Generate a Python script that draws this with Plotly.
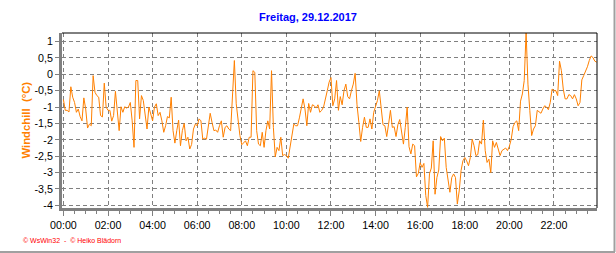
import plotly.graph_objects as go

# Windchill readings, 5-minute samples, in 4-hour blocks
block_00_04 = [-0.77, -1.1, -1.1, -1.15, -0.38, -0.7, -0.86, -1.16, -1.06, -1.29, -1.42, -0.72,
               -1.06, -1.64, -1.52, -1.57, -0.04, -0.55, -0.65, -0.7, -1.26, -1.3, -0.27, -1.0,
               -1.1, -1.1, -1.43, -1.26, -0.52, -1.26, -1.72, -0.99, -1.16, -0.99, -1.03, -1.0,
               -0.86, -1.42, -2.23, -0.19, -0.19, -1.36, -0.65, -0.8, -1.2, -1.67, -1.0, -1.26]
block_04_08 = [-1.42, -1.0, -0.9, -1.26, -1.16, -1.42, -1.77, -1.57, -1.29, -1.33, -0.7, -1.72,
               -2.1, -1.72, -1.4, -2.18, -1.72, -1.5, -2.03, -1.92, -2.28, -2.14, -1.67, -1.52,
               -1.57, -1.36, -1.42, -1.98, -1.95, -1.98, -1.57, -1.19, -1.47, -1.72, -1.7, -1.77,
               -1.57, -1.42, -1.92, -1.62, -1.57, -1.67, -1.72, -0.7, 0.42, -0.9, -1.47, -1.87]
block_08_12 = [-2.15, -2.08, -2.03, -2.18, -1.92, -1.92, 0.11, 0.06, -1.72, -2.13, -2.18, -1.77,
               -2.23, -1.72, -1.42, -1.67, 0.11, -1.62, -2.52, -2.23, -2.33, -1.92, -2.48, -2.45,
               -2.48, -2.56, -2.21, -1.87, -1.52, -1.57, -1.57, -1.33, -1.0, -0.75, -1.06, -1.57,
               -0.89, -1.16, -0.93, -0.96, -1.03, -0.93, -1.16, -1.1, -1.0, -0.7, -0.5, -0.24]
block_12_16 = [-0.1, -0.96, -0.75, -0.19, -1.1, -0.68, -0.93, -0.5, -0.3, -0.68, -0.75, -0.5,
               -0.3, 0.03, -0.93, -1.47, -2.05, -1.62, -1.31, -1.62, -1.62, -1.36, -1.67, -1.16,
               -0.99, -0.8, -0.5, -1.1, -1.54, -1.57, -1.9, -1.52, -1.1, -1.62, -1.6, -1.9,
               -1.54, -1.38, -1.82, -2.13, -1.62, -1.0, -2.21, -2.43, -2.13, -2.18, -3.13, -3.02]
block_16_20 = [-2.7, -2.84, -2.72, -3.7, -4.06, -3.04, -2.86, -2.03, -3.66, -3.15, -2.92, -1.9,
               -2.03, -1.95, -2.84, -3.25, -3.6, -3.15, -3.04, -3.15, -3.96, -3.56, -2.94, -2.64,
               -2.54, -2.64, -2.79, -2.54, -1.98, -2.18, -2.48, -2.45, -2.03, -2.13, -1.4, -2.33,
               -2.69, -2.59, -3.0, -2.03, -2.23, -2.08, -2.33, -2.48, -2.33, -2.28, -2.25, -2.33]
block_20_24 = [-2.2, -1.98, -1.6, -1.47, -1.42, -1.72, -0.82, -0.6, -0.19, 1.3, -0.3, -1.1,
               -1.87, -1.67, -1.57, -1.1, -1.16, -1.19, -1.06, -0.96, -1.0, -1.08, -0.86, -0.45,
               -0.5, -0.5, -0.65, 0.4, 0.11, -0.45, -0.75, -0.75, -0.62, -0.65, -0.75, -0.62,
               -0.75, -0.96, -0.86, -0.17, -0.04, 0.08, 0.23, 0.42, 0.56, 0.51, 0.4, 0.37]

windchill = block_00_04 + block_04_08 + block_08_12 + block_12_16 + block_16_20 + block_20_24
hours = [i * 5 / 60 for i in range(len(windchill))]

x_tick_vals = [0, 2, 4, 6, 8, 10, 12, 14, 16, 18, 20, 22]
x_tick_text = ["00:00", "02:00", "04:00", "06:00", "08:00", "10:00",
               "12:00", "14:00", "16:00", "18:00", "20:00", "22:00"]
y_tick_vals = [1, 0.5, 0, -0.5, -1, -1.5, -2, -2.5, -3, -3.5, -4]
y_tick_text = ["1", "0,5", "0", "-0,5", "-1", "-1,5", "-2", "-2,5", "-3", "-3,5", "-4"]

title_text = "Freitag, 29.12.2017"
y_title = "Windchill  (°C)"
footer = "© WsWin32  -  © Heiko Blädorn"

FONT = "Liberation Sans, Arial, sans-serif"
GRID = "#808080"

fig = go.Figure()
fig.add_trace(go.Scatter(x=hours, y=windchill, mode="lines",
                         line=dict(color="#FF8000", width=1), showlegend=False,
                         hoverinfo="skip"))

L, R, T, B = 62, 19, 33, 45
W, H = 616, 253
pw = W - L - R
ph = H - T - B

def px_x(px):
    return (px - L) / pw

def px_y(py):
    return (H - B - py) / ph

fig.update_layout(
    width=W, height=H,
    margin=dict(l=L, r=R, t=T, b=B, pad=0),
    paper_bgcolor="white", plot_bgcolor="white",
    font=dict(family=FONT, size=11, color="black"),
    title=dict(text="<b>" + title_text + "</b>", x=0.5, xref="container", xanchor="center",
               y=1 - 17 / H, yref="container", yanchor="middle",
               font=dict(family=FONT, size=11, color="#0000FF")),
    xaxis=dict(range=[-0.063, 23.93], tickmode="array", tickvals=x_tick_vals, ticktext=x_tick_text,
               showgrid=True, gridcolor=GRID, gridwidth=1, griddash="4px,3px",
               showline=True, linecolor=GRID, linewidth=3,
               ticks="outside", ticklen=5, tickcolor=GRID, tickwidth=1,
               minor=dict(tickmode="linear", tick0=0, dtick=0.5, ticks="outside", ticklen=3,
                          tickcolor=GRID, tickwidth=1, showgrid=False),
               zeroline=False, tickfont=dict(family=FONT, size=10.7, color="black"),
               fixedrange=True),
    yaxis=dict(range=[-4.08, 1.26], tickmode="array", tickvals=y_tick_vals, ticktext=y_tick_text,
               showgrid=True, gridcolor=GRID, gridwidth=1, griddash="4px,3px",
               showline=True, linecolor=GRID, linewidth=3,
               ticks="outside", ticklen=4, tickcolor=GRID, tickwidth=1,
               zeroline=False, tickfont=dict(family=FONT, size=10.7, color="black"),
               fixedrange=True),
    shapes=[
        dict(type="line", xref="paper", yref="paper", x0=0, x1=1, y0=1, y1=1,
             line=dict(color="black", width=1)),
        dict(type="line", xref="paper", yref="paper", x0=1, x1=1, y0=0, y1=1,
             line=dict(color="black", width=1)),
        dict(type="line", xref="paper", yref="paper", x0=px_x(614.5), x1=px_x(614.5),
             y0=px_y(0), y1=px_y(252), line=dict(color="#A0A0A0", width=2)),
        dict(type="line", xref="paper", yref="paper", x0=px_x(0), x1=px_x(615),
             y0=px_y(252), y1=px_y(252), line=dict(color="#A0A0A0", width=2)),
    ],
    annotations=[
        dict(text="<b>" + y_title + "</b>", xref="paper", yref="paper",
             x=px_x(25), y=px_y(120.5), textangle=-90, showarrow=False,
             xanchor="center", yanchor="middle",
             font=dict(family=FONT, size=11.3, color="#FF8000")),
        dict(text=footer, xref="paper", yref="paper", x=px_x(21), y=px_y(240),
             showarrow=False, xanchor="left", yanchor="middle",
             font=dict(family=FONT, size=7, color="#FF0000")),
    ],
)

fig.write_html("out.html")
